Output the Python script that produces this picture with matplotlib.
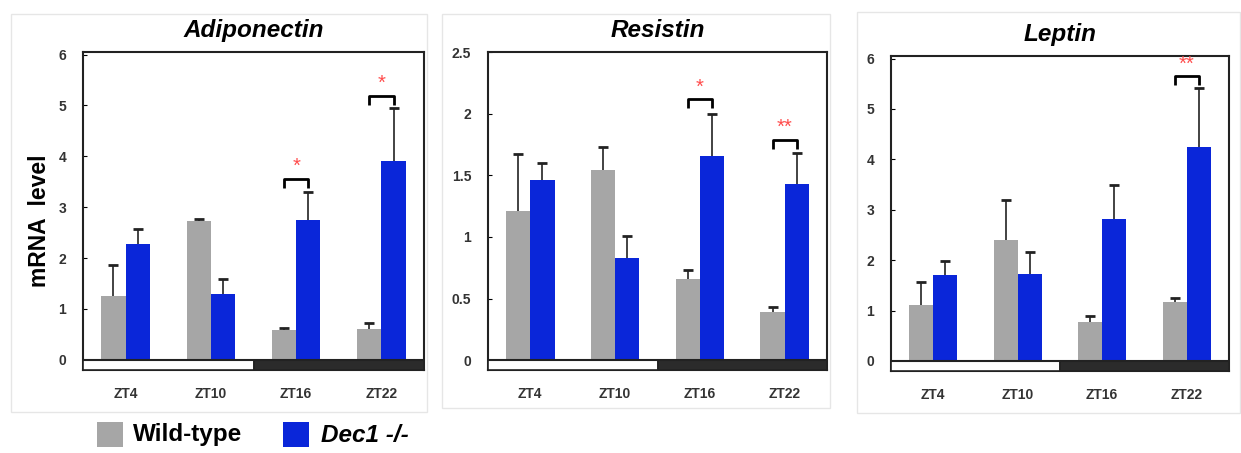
import matplotlib
matplotlib.use("Agg")
import matplotlib.pyplot as plt
from matplotlib.patches import Rectangle
import numpy as np

plt.rcParams["font.family"] = ["Liberation Sans", "DejaVu Sans"]

# time points and per-gene expression (mean, upper error)
timepoints = ["ZT4", "ZT10", "ZT16", "ZT22"]

adipo_wt = [1.25, 2.73, 0.59, 0.60]
adipo_wt_err = [0.61, 0.04, 0.03, 0.12]
adipo_ko = [2.28, 1.29, 2.74, 3.91]
adipo_ko_err = [0.30, 0.29, 0.55, 1.03]

resis_wt = [1.21, 1.54, 0.66, 0.39]
resis_wt_err = [0.46, 0.19, 0.07, 0.04]
resis_ko = [1.46, 0.83, 1.66, 1.43]
resis_ko_err = [0.14, 0.18, 0.34, 0.25]

lep_wt = [1.10, 2.40, 0.78, 1.17]
lep_wt_err = [0.46, 0.80, 0.12, 0.08]
lep_ko = [1.71, 1.73, 2.81, 4.25]
lep_ko_err = [0.27, 0.43, 0.68, 1.17]

# significance marks: (time index, bracket height, label)
adipo_sig = [(2, 3.56, "*"), (3, 5.19, "*")]
resis_sig = [(2, 2.12, "*"), (3, 1.79, "**")]
lep_sig = [(3, 5.65, "**")]

GRAY = "#a6a6a6"
BLUE = "#0a26d9"
STAR = "#ff4d4d"
INK = "#222222"

W, H = 1241, 453
fig = plt.figure(figsize=(W / 100, H / 100), dpi=100)


def px_axes(left, right, top, bottom):
    return fig.add_axes([left / W, 1 - bottom / H, (right - left) / W, (bottom - top) / H])


def up_errors(ax, xs, vals, errs):
    # one-sided (upper) error bars with a short cap
    tops = np.asarray(vals) + np.asarray(errs)
    ax.vlines(xs, vals, tops, color=INK, lw=1.2, zorder=3)
    ax.plot(xs, tops, ls="none", marker="_", ms=7, mew=2, color=INK, zorder=3)


def panel(box, title, ymax, step, strip, wt, wt_err, ko, ko_err, sig, frame):
    # light outer frame around each panel
    fl, fr, ft, fb = frame
    fig.patches.append(Rectangle((fl / W, 1 - fb / H), (fr - fl) / W, (fb - ft) / H,
                                 transform=fig.transFigure, fill=False,
                                 edgecolor="#e6e6e6", lw=1))
    ax = px_axes(*box)
    x = np.arange(len(timepoints)) + 0.5
    bw = 0.285
    ax.bar(x - bw / 2, wt, bw, color=GRAY, zorder=2)
    ax.bar(x + bw / 2, ko, bw, color=BLUE, zorder=2)
    up_errors(ax, x - bw / 2, wt, wt_err)
    up_errors(ax, x + bw / 2, ko, ko_err)

    # light / dark phase strip below zero
    ax.add_patch(Rectangle((0, -strip), 2, strip, facecolor="white",
                           edgecolor=INK, lw=1.2, zorder=4))
    ax.add_patch(Rectangle((2, -strip), 2, strip, facecolor="#2b2b2b",
                           edgecolor=INK, lw=1.2, zorder=4))
    ax.axhline(0, color=INK, lw=1.5, zorder=4)

    for i, yb, lab in sig:
        leg = ymax * 0.03
        xa, xb = x[i] - bw / 2, x[i] + bw / 2
        ax.plot([xa, xa, xb, xb], [yb - leg, yb, yb, yb - leg], color="black",
                lw=2, solid_capstyle="butt", zorder=5)
        ax.text((xa + xb) / 2, yb + ymax * 0.008, lab, ha="center", va="bottom",
                color=STAR, fontsize=14.5, zorder=6, clip_on=False)

    ax.set_xlim(0, 4)
    ax.set_ylim(-strip, ymax)
    ticks = np.arange(0, ymax + step / 2, step)
    ax.set_yticks(ticks)
    ax.set_yticklabels([f"{t:g}" for t in ticks])
    ax.set_xticks(x)
    ax.set_xticklabels(timepoints)
    ax.tick_params(axis="y", direction="in", length=3, width=0.8, pad=12,
                   labelsize=10, labelcolor="#333333")
    ax.tick_params(axis="x", length=0, pad=12, labelsize=10, labelcolor="#333333")
    for lab in ax.get_xticklabels() + ax.get_yticklabels():
        lab.set_fontweight("bold")
    for sp in ax.spines.values():
        sp.set_linewidth(1.5)
        sp.set_color(INK)
    ax.set_title(title, fontsize=17.5, fontweight="bold", style="italic", pad=11)
    return ax


ax1 = panel((83, 424, 52, 370), "Adiponectin", 6.05, 1, 0.2,
            adipo_wt, adipo_wt_err, adipo_ko, adipo_ko_err, adipo_sig, (11, 427, 14, 412))
ax1.set_ylabel("mRNA  level", fontsize=16.5, fontweight="bold")
ax1.yaxis.set_label_coords(-0.095, 0.47)

panel((488, 827, 52, 370), "Resistin", 2.5, 0.5, 0.08,
      resis_wt, resis_wt_err, resis_ko, resis_ko_err, resis_sig, (442, 830, 14, 408))

panel((891, 1229, 56, 371), "Leptin", 6.05, 1, 0.2,
      lep_wt, lep_wt_err, lep_ko, lep_ko_err, lep_sig, (857, 1240, 12, 413))

# legend along the bottom
fig.patches.append(Rectangle((97 / W, 1 - 447 / H), 26 / W, 25 / H,
                             transform=fig.transFigure, facecolor=GRAY, edgecolor="none"))
fig.text(133 / W, 1 - 435 / H, "Wild-type", fontsize=17.5, fontweight="bold", va="center")
fig.patches.append(Rectangle((283 / W, 1 - 447 / H), 26 / W, 25 / H,
                             transform=fig.transFigure, facecolor=BLUE, edgecolor="none"))
fig.text(321 / W, 1 - 435 / H, "Dec1 -/-", fontsize=17.5,
         fontweight="bold", style="italic", va="center")

fig.savefig("out.png", dpi=100)
